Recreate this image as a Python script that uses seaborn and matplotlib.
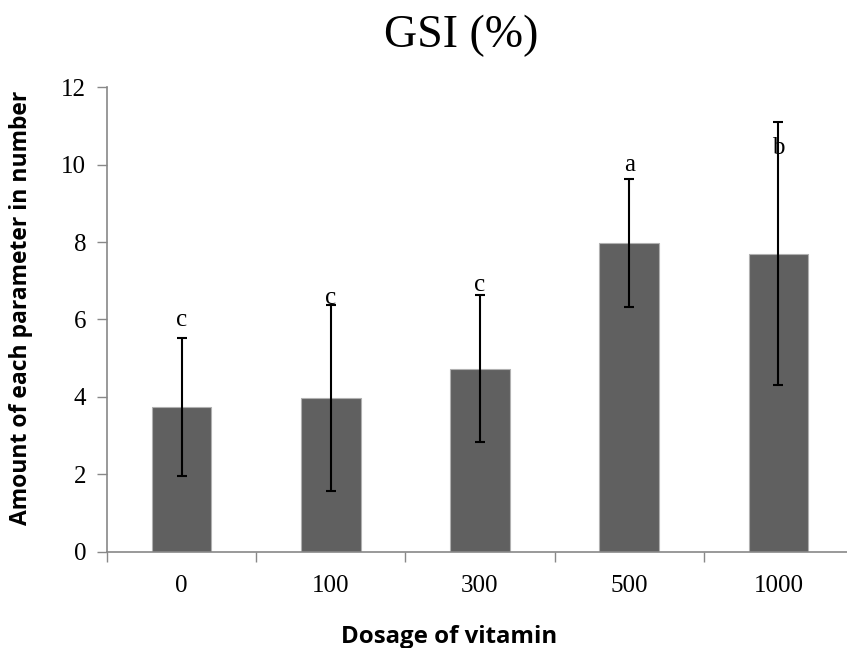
import matplotlib
matplotlib.use("Agg")
import matplotlib.pyplot as plt
import seaborn as sns
import pandas as pd
import numpy as np

# data
dosage = ["0", "100", "300", "500", "1000"]
gsi_mean = [3.74, 3.97, 4.73, 7.98, 7.70]
gsi_err = [1.78, 2.41, 1.90, 1.66, 3.40]
letters = ["c", "c", "c", "a", "b"]
letter_y = [5.70, 6.28, 6.60, 9.70, 10.15]

df = pd.DataFrame({"Dosage": dosage, "GSI": gsi_mean})

sns.set_style("white")
plt.rcParams["text.color"] = "black"
plt.rcParams["xtick.color"] = "black"
plt.rcParams["ytick.color"] = "black"
plt.rcParams["axes.labelcolor"] = "black"
serif = ["Liberation Serif", "DejaVu Serif"]
sans = ["Open Sans", "DejaVu Sans"]

fig = plt.figure(figsize=(8.47, 6.48), dpi=100)
ax = fig.add_axes([0.1263, 0.1486, 0.8808, 0.7167])

sns.barplot(data=df, x="Dosage", y="GSI", color="#606060", saturation=1,
            width=0.4, edgecolor="#b0b0b0", linewidth=0.8, errorbar=None, ax=ax)
ax.errorbar(range(len(dosage)), gsi_mean, yerr=gsi_err, fmt="none",
            ecolor="black", elinewidth=1.5, capsize=3.8, capthick=1.5)

for i, (lab, yy) in enumerate(zip(letters, letter_y)):
    ax.text(i, yy, lab, ha="center", va="bottom", fontsize=18, family=serif)

ax.set_xlim(-0.5, 4.5)
ax.set_ylim(0, 12)
ax.set_xticks(range(len(dosage)))
ax.set_xticklabels(dosage, family=serif, fontsize=18)
ax.set_yticks(range(0, 13, 2), [str(v) for v in range(0, 13, 2)], family=serif, fontsize=18)
ax.set_xticks(np.arange(-0.5, 4.6, 1), minor=True)
ax.tick_params(axis="x", which="major", length=0, pad=17)
ax.tick_params(axis="x", which="minor", length=7, width=1, color="#888888", direction="out", bottom=True)
ax.tick_params(axis="y", length=7, width=1, color="#888888", direction="out", left=True, pad=8)

for s in ["top", "right"]:
    ax.spines[s].set_visible(False)
for s in ["left", "bottom"]:
    ax.spines[s].set_color("#888888")
    ax.spines[s].set_linewidth(1.2)

ax.set_xlabel("Dosage of vitamin", family=sans, fontweight="bold", fontsize=17.3)
ax.set_ylabel("Amount of each parameter in number", family=sans, fontweight="bold", fontsize=16.5)
ax.xaxis.set_label_coords(0.458, -0.157)
ax.yaxis.set_label_coords(-0.099, 0.525)

fig.text(0.545, 0.928, "GSI (%)", ha="center", va="baseline", fontsize=33, family=serif)

fig.savefig("out.png", dpi=100)
